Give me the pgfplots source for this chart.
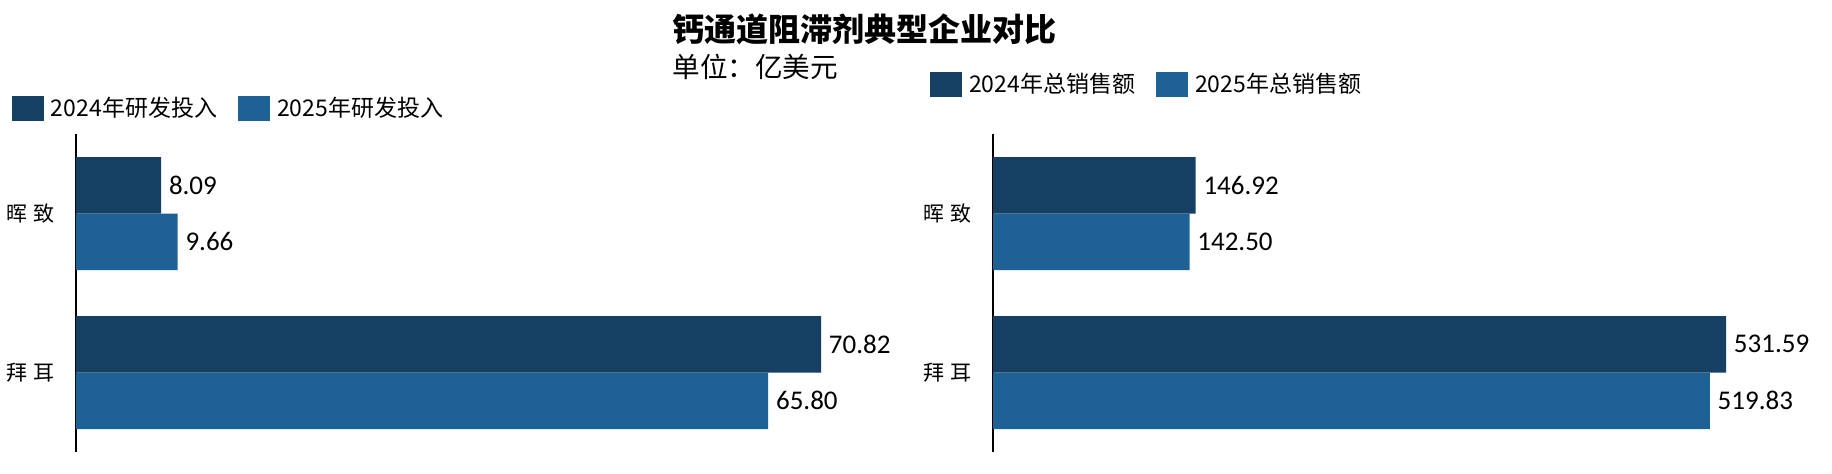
\documentclass[border=0pt]{standalone}
\usepackage{pgfplots}
\pgfplotsset{compat=1.18}
\usepackage{fontspec}
\setmainfont{Carlito}
\newfontfamily\cjk{Noto Sans CJK SC}
\definecolor{c24}{RGB}{21,63,99}
\definecolor{c25}{RGB}{30,98,149}

\pgfplotsset{
  mybar/.style={
    xbar, scale only axis, height=159pt,
    ymin=-0.5, ymax=1.5, ytick={0,1},
    yticklabels={拜\hspace{3pt}耳, 晖\hspace{3pt}致},
    yticklabel style={font=\cjk\fontsize{10.5}{12}\selectfont, inner sep=0pt, xshift=-8.5pt},
    axis x line=none, axis y line=left,
    y axis line style={-, line width=1pt, black},
    ytick style={draw=none},
    xmin=0, clip=false,
    bar width=28.25pt,
    point meta=explicit symbolic,
    nodes near coords,
    every node near coord/.append style={font=\fontsize{13.5}{16}\selectfont, anchor=west, inner sep=0pt, xshift=3.75pt},
    legend columns=-1,
    legend image code/.code={\fill[##1] (0pt,-6.25pt) rectangle (16pt,6.25pt);},
    legend style={draw=none, fill=none, inner sep=0pt, outer sep=0pt,
      font=\cjk\fontsize{11.5}{13}\selectfont,
      nodes={inner sep=0pt},
      /tikz/every odd column/.append style={column sep=3.5pt},
      /tikz/every even column/.append style={column sep=10.5pt}},
  }
}

\begin{document}
\begin{tikzpicture}
\path[use as bounding box] (0,0) rectangle (916pt,236.5pt);

\node[font=\cjk\bfseries\fontsize{16}{18}\selectfont] at (432pt,222pt) {钙通道阻滞剂典型企业对比};
\node[anchor=west, inner sep=0pt, font=\cjk\fontsize{13.8}{16}\selectfont] at (336pt,203pt) {单位：亿美元};

\begin{axis}[mybar, width=420.8pt, xmax=80,
  at={(38pt,10.5pt)}, anchor=south west,
  legend style={at={(0,1)}, anchor=west, xshift=-32pt, yshift=12.75pt}]
\addplot[fill=c24, draw=none, bar shift=14.125pt] coordinates {(8.09,1) [8.09] (70.82,0) [70.82]};
\addplot[fill=c25, draw=none, bar shift=-14.125pt] coordinates {(9.66,1) [9.66] (65.80,0) [65.80]};
\legend{2024年研发投入, 2025年研发投入}
\end{axis}

\begin{axis}[mybar, width=399.9pt, xmax=580,
  at={(496.5pt,10.5pt)}, anchor=south west,
  legend style={at={(0,1)}, anchor=west, xshift=-31.5pt, yshift=25pt}]
\addplot[fill=c24, draw=none, bar shift=14.125pt] coordinates {(146.92,1) [146.92] (531.59,0) [531.59]};
\addplot[fill=c25, draw=none, bar shift=-14.125pt] coordinates {(142.50,1) [142.50] (519.83,0) [519.83]};
\legend{2024年总销售额, 2025年总销售额}
\end{axis}
\end{tikzpicture}
\end{document}
